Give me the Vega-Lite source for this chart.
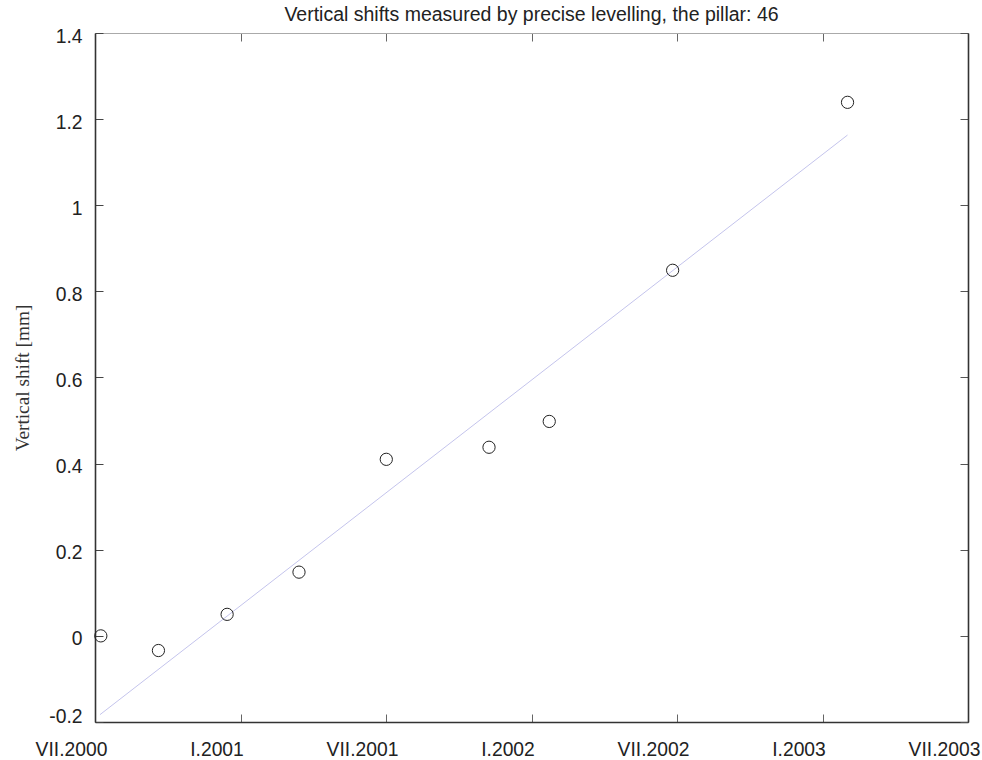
{
  "$schema": "https://vega.github.io/schema/vega-lite/v6.json",
  "width": 873,
  "height": 689,
  "autosize": {"type": "none"},
  "padding": {"left": 95, "top": 33, "right": 14, "bottom": 38},
  "background": "white",
  "title": {
    "text": "Vertical shifts measured by precise levelling, the pillar: 46",
    "anchor": "middle",
    "frame": "group",
    "baseline": "alphabetic",
    "offset": 10,
    "dy": 23,
    "font": "Liberation Sans",
    "fontSize": 19.5,
    "fontWeight": "normal",
    "color": "#222"
  },
  "config": {
    "view": {"stroke": null},
    "axis": {"grid": false, "labelFont": "Liberation Sans", "labelFontSize": 19.3, "labelColor": "#222"}
  },
  "datasets": {
    "obs": [
      {"t": 2000.520, "v": 0.0},
      {"t": 2000.718, "v": -0.034},
      {"t": 2000.954, "v": 0.05},
      {"t": 2001.201, "v": 0.148},
      {"t": 2001.501, "v": 0.41},
      {"t": 2001.854, "v": 0.438},
      {"t": 2002.061, "v": 0.498},
      {"t": 2002.485, "v": 0.849},
      {"t": 2003.086, "v": 1.239}
    ],
    "fit": [
      {"t": 2000.517, "v": -0.183},
      {"t": 2003.086, "v": 1.163}
    ]
  },
  "layer": [
    {
      "data": {"name": "fit"},
      "mark": {"type": "line", "color": "#c4c4ec", "strokeWidth": 1},
      "encoding": {
        "x": {
          "field": "t", "type": "quantitative",
          "scale": {"domain": [2000.5, 2003.5], "nice": false, "zero": false},
          "axis": {"orient": "top", "values": [2000.5, 2001, 2001.5, 2002, 2002.5, 2003, 2003.5], "labels": false, "title": null, "domainColor": "#aaaaaa", "domainWidth": 1, "tickColor": "#666666", "tickSize": -8, "tickWidth": 1}
        },
        "y": {
          "field": "v", "type": "quantitative",
          "scale": {"domain": [-0.2, 1.4], "nice": false, "zero": false},
          "axis": {"orient": "right", "values": [-0.2, 0, 0.2, 0.4, 0.6, 0.8, 1.0, 1.2, 1.4], "labels": false, "title": null, "domainColor": "#333333", "domainWidth": 1.6, "tickColor": "#555555", "tickSize": -8, "tickWidth": 1}
        }
      }
    },
    {
      "data": {"name": "obs"},
      "mark": {"type": "point", "shape": "circle", "filled": false, "color": "#222222", "size": 150, "strokeWidth": 1, "opacity": 1},
      "encoding": {
        "x": {
          "field": "t", "type": "quantitative",
          "scale": {"domain": [2000.5, 2003.5], "nice": false, "zero": false},
          "axis": {
            "orient": "bottom",
            "values": [2000.5, 2001, 2001.5, 2002, 2002.5, 2003, 2003.5],
            "labelExpr": "(datum.value % 1 == 0 ? 'I.' + datum.value : 'VII.' + floor(datum.value))",
            "title": null,
            "domainColor": "#333333", "domainWidth": 1.6,
            "tickColor": "#666666", "tickSize": -8, "tickWidth": 1,
            "labelAlign": "center", "labelBaseline": "alphabetic",
            "labelOffset": -24, "labelPadding": 41, "labelFlush": false, "labelOverlap": false
          }
        },
        "y": {
          "field": "v", "type": "quantitative",
          "scale": {"domain": [-0.2, 1.4], "nice": false, "zero": false},
          "axis": {
            "orient": "left",
            "values": [-0.2, 0, 0.2, 0.4, 0.6, 0.8, 1.0, 1.2, 1.4],
            "labelExpr": "datum.value == 0 ? '0' : (datum.value < 0 ? '-' + format(-datum.value, '.1~f') : format(datum.value, '.1~f'))",
            "domainColor": "#333333", "domainWidth": 1.6,
            "tickColor": "#444444", "tickSize": -8, "tickWidth": 1,
            "labelAlign": "right", "labelBaseline": "alphabetic",
            "labelOffset": {"condition": {"test": "datum.value < -0.1", "value": 0}, "value": 9},
            "labelPadding": 21, "labelFlush": false, "labelOverlap": false,
            "title": "Vertical shift [mm]",
            "titleFont": "Liberation Serif", "titleFontSize": 19.3, "titleFontWeight": "normal", "titleColor": "#333333",
            "titleAngle": 270, "titleAlign": "center", "titleBaseline": "middle",
            "titleX": -73, "titleY": 344.5
          }
        }
      }
    }
  ],
  "resolve": {"axis": {"x": "independent", "y": "independent"}}
}
